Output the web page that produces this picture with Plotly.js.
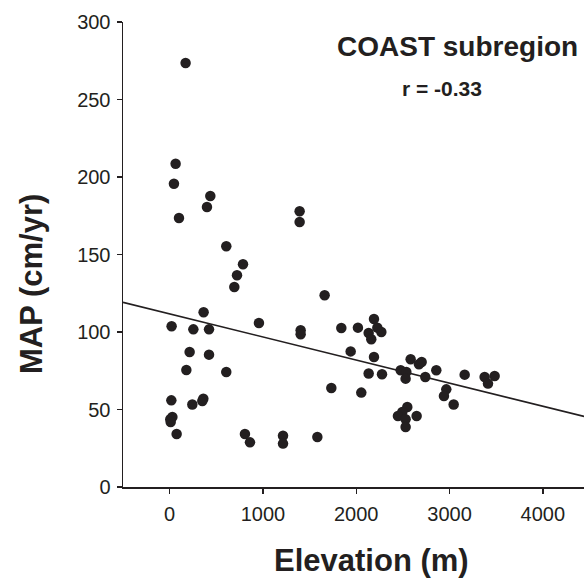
<!DOCTYPE html>
<html>
<head>
<meta charset="utf-8">
<script src="https://cdn.plot.ly/plotly-3.0.1.min.js"></script>
<style>html,body{margin:0;padding:0;background:#fff;}#chart{width:584px;height:579px;}</style>
</head>
<body>
<div id="chart"></div>
<script>
// Elevation (m) and MAP (cm/yr)
const elevation = [171, 64, 46, 100, 436, 400, 607, 786, 722, 1393, 1393,
  693, 364, 21, 254, 422, 957, 1661, 1404, 1404, 1840, 214, 422, 179, 607,
  1733, 18, 361, 350, 243, 29, 7, 11, 75, 807, 861, 1215, 1215, 1583,
  2018, 2190, 2133, 2161, 2226, 2269, 1940, 2190, 2133, 2276, 2054,
  2583, 2672, 2701, 2476, 2537, 2529, 2740, 2858, 2965, 2940, 3044,
  3162, 3376, 3412, 3483, 2547, 2494, 2447, 2529, 2529, 2647];
const map = [273.5, 208.6, 195.7, 173.5, 187.7, 180.6, 155.3, 143.7, 136.6, 177.9, 171,
  129, 112.7, 103.7, 101.7, 101.7, 105.8, 123.7, 101.1, 98.5, 102.6, 87.1, 85.4, 75.5, 74.2,
  63.9, 55.9, 57.0, 55.5, 53.2, 45.2, 43.7, 41.9, 34.2, 34.2, 28.8, 33.1, 28, 32.3,
  102.8, 108.4, 99.4, 95.3, 102.8, 100, 87.5, 83.9, 73.2, 72.7, 60.9,
  82.4, 79.2, 80.6, 75.3, 74.2, 69.9, 71, 75.3, 63, 58.7, 53.2,
  72.5, 71, 66.7, 71.6, 51.6, 48.4, 45.8, 43.7, 38.7, 45.8];
// Regression line parameters
const fitIntercept = 111.7;
const fitSlope = -0.0149;
const xRange = [-500, 4441];
const yRange = [0, 300];
const xTicks = [0, 1000, 2000, 3000, 4000];
const yTicks = [0, 50, 100, 150, 200, 250, 300];
const titleText = 'COAST subregion';
const rText = 'r = -0.33';
const xTitle = 'Elevation (m)';
const yTitle = 'MAP (cm/yr)';

const ink = '#231f20';
const fitX = xRange.slice();
const fitY = fitX.map(x => fitIntercept + fitSlope * x);

const traces = [
  {x: fitX, y: fitY, mode: 'lines', type: 'scatter', line: {color: ink, width: 1.6}, hoverinfo: 'skip'},
  {x: elevation, y: map, mode: 'markers', type: 'scatter', marker: {color: ink, size: 10.5, line: {width: 0}}}
];

const font = 'Arial, "Liberation Sans", Helvetica, sans-serif';
const axisCommon = {
  showgrid: false, zeroline: false, showline: true, linecolor: ink, linewidth: 1.5,
  ticks: 'outside', ticklen: 5, tickwidth: 1.5, tickcolor: ink,
  tickfont: {family: font, size: 20, color: ink}, fixedrange: true
};

const layout = {
  width: 584, height: 579,
  margin: {l: 123, r: 0, t: 22, b: 92, pad: 0},
  paper_bgcolor: '#ffffff', plot_bgcolor: '#ffffff',
  showlegend: false,
  xaxis: Object.assign({}, axisCommon, {range: xRange, tickvals: xTicks, ticktext: xTicks.map(String), ticklabelstandoff: 3}),
  yaxis: Object.assign({}, axisCommon, {range: yRange, tickvals: yTicks, ticktext: yTicks.map(String), ticklabelstandoff: 2}),
  annotations: [
    {text: '<b>' + titleText + '</b>', xref: 'paper', yref: 'paper', x: 1.0, y: 0.948, xanchor: 'right', yanchor: 'middle', xshift: -4, showarrow: false, font: {family: font, size: 28, color: ink}},
    {text: '<b>' + rText + '</b>', xref: 'paper', yref: 'paper', x: 0.692, y: 0.858, xanchor: 'center', yanchor: 'middle', showarrow: false, font: {family: font, size: 21, color: ink}},
    {text: '<b>' + xTitle + '</b>', xref: 'paper', yref: 'paper', x: 0.540, y: -0.158, xanchor: 'center', yanchor: 'middle', showarrow: false, font: {family: font, size: 31, color: ink}},
    {text: '<b>' + yTitle + '</b>', xref: 'paper', yref: 'paper', x: -0.198, y: 0.436, xanchor: 'center', yanchor: 'middle', textangle: -90, showarrow: false, font: {family: font, size: 31, color: ink}}
  ]
};

Plotly.newPlot('chart', traces, layout, {displayModeBar: false, staticPlot: true});
</script>
</body>
</html>
